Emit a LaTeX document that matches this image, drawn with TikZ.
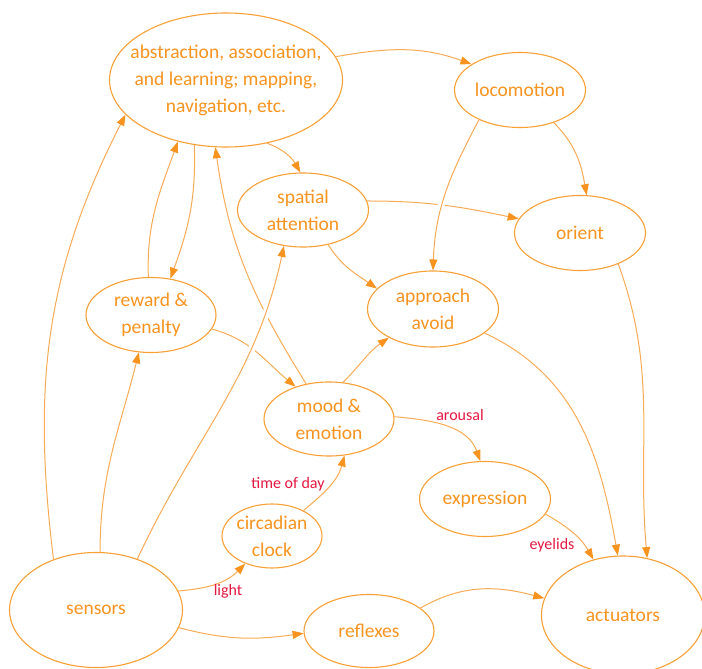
\documentclass[tikz,border=0pt]{standalone}
\usepackage{fontspec}
\setmainfont{Carlito}
\usetikzlibrary{shapes.geometric,arrows.meta}
\definecolor{ringorange}{HTML}{F8A036}
\definecolor{lineorange}{HTML}{F9AA55}
\definecolor{tiporange}{HTML}{F7931E}
\definecolor{wordorange}{HTML}{F7931E}
\definecolor{tagred}{HTML}{E5173F}
\newcommand{\bigText}{\fontsize{19.5}{27}\selectfont}
\newcommand{\smallText}{\fontsize{16}{18}\selectfont}

\begin{document}
\begin{tikzpicture}[x=1pt,y=-1pt]
  \tikzset{
    state/.style={ellipse,draw=ringorange,line width=1.1pt,text=wordorange,align=center,inner sep=-20pt,font=\bigText},
    link/.style={draw=lineorange,line width=1pt,-{Triangle[length=11pt,width=8pt,color=tiporange]}},
    tag/.style={text=tagred,font=\smallText},
    gap/.style={preaction={draw=white,line width=7pt,-,shorten <=14pt,shorten >=14pt}}
  }
  \useasboundingbox (0,0) rectangle (702,669);
  % the states
  \node[state,minimum width=233pt,minimum height=134pt] (abs) at (226,80) {abstraction, association,\\and learning; mapping,\\navigation, etc.};
  \node[state,minimum width=131pt,minimum height=75pt] (loco) at (520,90) {locomotion};
  \node[state,minimum width=131pt,minimum height=75pt] (orient) at (580,233) {orient};
  \node[state,minimum width=131pt,minimum height=74pt] (spat) at (303,210) {spatial\\attention};
  \node[state,minimum width=131pt,minimum height=76pt] (appr) at (433,309) {approach\\avoid};
  \node[state,minimum width=130pt,minimum height=75pt] (reward) at (151,315) {reward \&\\penalty};
  \node[state,minimum width=130pt,minimum height=74pt] (mood) at (329,419) {mood \&\\emotion};
  \node[state,minimum width=131pt,minimum height=75pt] (expr) at (485,499) {expression};
  \node[state,minimum width=100pt,minimum height=64pt] (clock) at (272,536) {circadian\\clock};
  \node[state,minimum width=173pt,minimum height=115pt] (sens) at (96,610) {sensors};
  \node[state,minimum width=130pt,minimum height=73pt] (refl) at (369,631) {reflexes};
  \node[state,minimum width=163pt,minimum height=118pt] (act) at (623,615) {actuators};
  % the links
  \draw[link] (sens.130) to[out=97,in=243] (abs.199);
  \draw[link] (sens.86) to[out=90,in=256] (reward.252);
  \draw[link] (sens.13) to[out=5,in=225] (clock.226);
  \draw[link] (sens.348) to[out=-15,in=188] (refl.182);
  \draw[link] (refl.24) to[out=30,in=165] (act.168);
  \draw[link] (clock.39) to[out=40,in=255] (mood.293);
  \draw[link] (mood.2) to[out=-5,in=110] (expr.97);
  \draw[link] (expr.346) to[out=-30,in=120] (act.118);
  \draw[link] (appr.335) to[out=-25,in=100] (act.95);
  \draw[link] (orient.321) to[out=-70,in=95] (act.67);
  \draw[link] (loco.316) to[out=-45,in=100] (orient.80);
  \draw[link] (abs.12) to[out=10,in=160] (loco.152);
  \draw[link] (abs.303) to[out=-20,in=120] (spat.94);
  \draw[link] (spat.8) to[out=0,in=168] (orient.167);
  \draw[link] (spat.306) to[out=-58,in=145] (appr.160);
  \draw[link] (mood.69) to[out=45,in=215] (appr.213);
  \draw[link] (mood.123) to[out=122,in=278] (abs.261);
  \draw[link] (reward.347) to[out=-15,in=140] (mood.136);
  \draw[link] (abs.244) to[out=-88,in=70] (reward.62);
  \draw[link] (reward.94) to[out=92,in=250] (abs.232);
  % these two pass over others
  \draw[link,gap] (sens.51) to[out=65,in=258] (spat.242);
  \draw[link,gap] (loco.216) to[out=-118,in=88] (appr.90);
  % link labels
  \node[tag] (light) at (228,591) {light};
  \node[tag] (timeOfDay) at (288,484) {time of day};
  \node[tag] (arousal) at (460,415) {arousal};
  \node[tag] (eyelids) at (552,545) {eyelids};
\end{tikzpicture}
\end{document}
